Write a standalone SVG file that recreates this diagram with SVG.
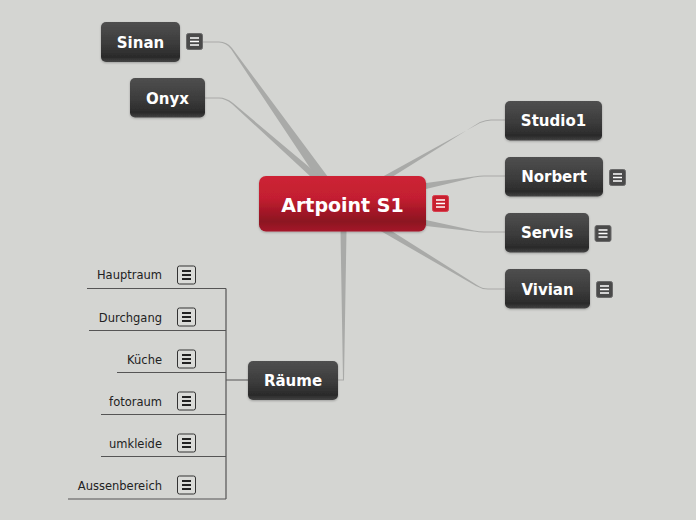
<svg xmlns="http://www.w3.org/2000/svg" width="696" height="520" viewBox="0 0 696 520">
<defs>
<linearGradient id="gDark" x1="0" y1="0" x2="0" y2="1">
<stop offset="0" stop-color="#4f4f4f"/>
<stop offset="0.55" stop-color="#3b3b3b"/>
<stop offset="0.88" stop-color="#2a2a2a"/>
<stop offset="1" stop-color="#444444"/>
</linearGradient>
<linearGradient id="gRed" x1="0" y1="0" x2="0" y2="1">
<stop offset="0" stop-color="#cd2235"/>
<stop offset="0.4" stop-color="#c31f30"/>
<stop offset="0.82" stop-color="#8c1221"/>
<stop offset="1" stop-color="#a5192a"/>
</linearGradient>
<filter id="sh" x="-10%" y="-10%" width="120%" height="130%">
<feDropShadow dx="0" dy="1" stdDeviation="1" flood-color="#000" flood-opacity="0.25"/>
</filter>
<g id="noteDark">
<rect x="0.5" y="0.5" width="16" height="16" rx="2" fill="#4a4a4a" stroke="#6a6a6a"/>
<path d="M4,5 H13 M4,8.5 H13 M4,12 H13" stroke="#fff" stroke-width="1.6"/>
</g>
<g id="noteRed">
<rect x="0.5" y="0.5" width="16" height="16" rx="2" fill="#c8202f" stroke="#d84050"/>
<path d="M4,5 H13 M4,8.5 H13 M4,12 H13" stroke="#fff" stroke-width="1.6"/>
</g>
<g id="noteLight">
<rect x="0.5" y="0.5" width="18" height="18" rx="2" fill="#dadbd8" stroke="#333"/>
<path d="M5,5.5 H14 M5,9.5 H14 M5,13.5 H14" stroke="#222" stroke-width="2"/>
</g>
</defs>
<style>
.node{fill:url(#gDark);filter:url(#sh)}
.root{fill:url(#gRed);filter:url(#sh)}
.nt{font-family:"DejaVu Sans",Verdana,sans-serif;font-weight:bold;font-size:15px;fill:#fff;text-anchor:middle}
.rt{font-family:"DejaVu Sans",Verdana,sans-serif;font-weight:bold;font-size:19px;fill:#fff;text-anchor:middle}
.st{font-family:"DejaVu Sans",Verdana,sans-serif;font-size:11.5px;fill:#222;text-anchor:end}
.con{fill:#a9aaa8}
.tree{stroke:#555;stroke-width:1.2;fill:none}
</style>
<rect width="696" height="520" fill="#d4d5d2"/>

<g id="connectors">
<path class="con" d="M202,41.5 H219 Q227,41.5 232,48 L328,177 H316 L231,49 Q226,42.5 219,42.5 H202 Z"/>
<path class="con" d="M205,97.5 H219 Q226,97.5 233,103 L321,177 H311 L232,104 Q225,98.5 219,98.5 H205 Z"/>
<path class="con" d="M505,119.5 H491 Q486,119.5 480,122 L392,177 H382 L480,123 Q486,120.5 491,120.5 H505 Z"/>
<path class="con" d="M505,175.5 H484 Q480,175.5 474,176.5 L426,183 V189 L474,177.5 Q480,176.5 484,176.5 H505 Z"/>
<path class="con" d="M505,231.5 H484 Q479,231.5 474,230.5 L426,220 V226 L474,231.5 Q479,232.5 484,232.5 H505 Z"/>
<path class="con" d="M505,288.5 H488 Q482,288.5 477,285 L390,230 H379 L476,286 Q482,289.5 488,289.5 H505 Z"/>
<path class="con" d="M340.5,231 H346.5 L344,380.5 H338 V379.5 H343 Z"/>
<g class="tree">
<path d="M248,380 H226 M226,288.5 V499"/>
<path d="M87,288.5 H226 M89,330.5 H226 M117,372.5 H226 M101,414.5 H226 M101,456.5 H226 M68,499 H226"/>
</g>
</g>

<g id="root">
<rect class="root" x="259" y="176" width="167" height="55.5" rx="7"/>
<text class="rt" x="342.5" y="212">Artpoint S1</text>
<use href="#noteRed" x="432" y="195"/>
</g>

<g id="sinan">
<rect class="node" x="101" y="22" width="79" height="40" rx="5"/>
<text class="nt" x="140.5" y="47.5">Sinan</text>
<use href="#noteDark" x="186" y="33"/>
</g>
<g id="onyx">
<rect class="node" x="130" y="78" width="75" height="39.5" rx="5"/>
<text class="nt" x="167.5" y="103.5">Onyx</text>
</g>
<g id="studio1">
<rect class="node" x="505" y="101" width="97" height="39.5" rx="5"/>
<text class="nt" x="553.5" y="126">Studio1</text>
</g>
<g id="norbert">
<rect class="node" x="505" y="157" width="98" height="39.5" rx="5"/>
<text class="nt" x="554" y="182">Norbert</text>
<use href="#noteDark" x="609" y="169"/>
</g>
<g id="servis">
<rect class="node" x="505" y="213" width="84" height="39.5" rx="5"/>
<text class="nt" x="547" y="238">Servis</text>
<use href="#noteDark" x="594.5" y="225"/>
</g>
<g id="vivian">
<rect class="node" x="505" y="269" width="85" height="39.5" rx="5"/>
<text class="nt" x="547.5" y="294.5">Vivian</text>
<use href="#noteDark" x="596" y="281"/>
</g>
<g id="raeume">
<rect class="node" x="248" y="361" width="90" height="39" rx="5"/>
<text class="nt" x="293" y="386">Räume</text>
</g>

<g id="hauptraum">
<text class="st" x="162" y="279">Hauptraum</text>
<use href="#noteLight" x="177" y="265.5"/>
</g>
<g id="durchgang">
<text class="st" x="162" y="321.5">Durchgang</text>
<use href="#noteLight" x="177" y="307.5"/>
</g>
<g id="kueche">
<text class="st" x="162" y="363.5">Küche</text>
<use href="#noteLight" x="177" y="349.5"/>
</g>
<g id="fotoraum">
<text class="st" x="162" y="405.5">fotoraum</text>
<use href="#noteLight" x="177" y="391.5"/>
</g>
<g id="umkleide">
<text class="st" x="162" y="447.5">umkleide</text>
<use href="#noteLight" x="177" y="433.5"/>
</g>
<g id="aussenbereich">
<text class="st" x="162" y="489.5">Aussenbereich</text>
<use href="#noteLight" x="177" y="475.5"/>
</g>
</svg>
